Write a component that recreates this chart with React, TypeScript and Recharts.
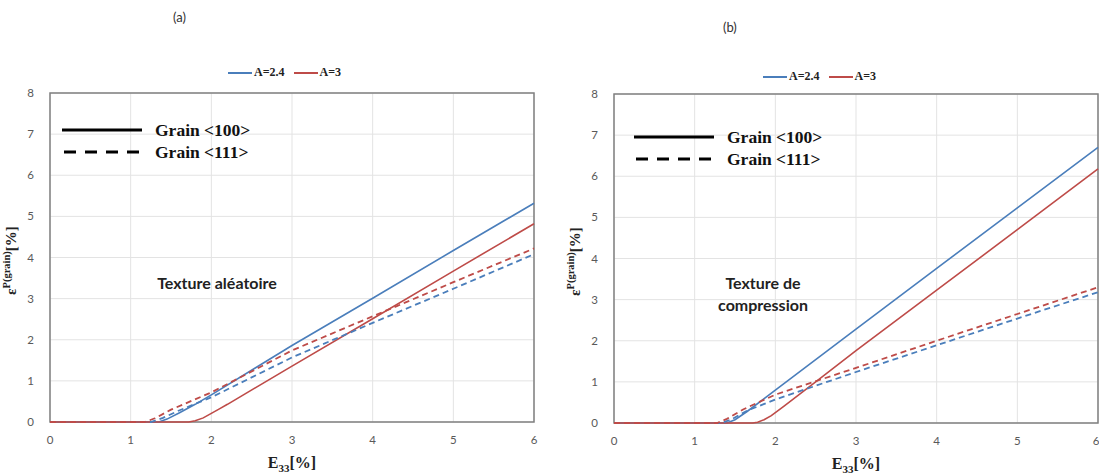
import React from 'react';
import { LineChart, Line, XAxis, YAxis, CartesianGrid, Legend, ReferenceArea } from 'recharts';

type Pt = { x: number; y: number };

// (a) Texture aléatoire
const aBlue100: Pt[] = [
  { x: 0, y: 0 }, { x: 1.35, y: 0 }, { x: 1.45, y: 0.07 }, { x: 1.6, y: 0.22 }, { x: 1.8, y: 0.43 },
  { x: 2, y: 0.66 }, { x: 3, y: 1.86 }, { x: 4, y: 3.01 }, { x: 5, y: 4.17 }, { x: 6, y: 5.32 },
];
const aRed100: Pt[] = [
  { x: 0, y: 0 }, { x: 1.72, y: 0 }, { x: 1.8, y: 0.03 }, { x: 1.9, y: 0.1 }, { x: 2, y: 0.21 },
  { x: 2.1, y: 0.32 }, { x: 2.2, y: 0.43 }, { x: 3, y: 1.36 }, { x: 4, y: 2.51 }, { x: 5, y: 3.67 }, { x: 6, y: 4.82 },
];
const aBlue111: Pt[] = [
  { x: 0, y: 0 }, { x: 1.25, y: 0 }, { x: 1.4, y: 0.1 }, { x: 1.6, y: 0.28 }, { x: 2, y: 0.6 },
  { x: 3, y: 1.57 }, { x: 4, y: 2.41 }, { x: 5, y: 3.24 }, { x: 6, y: 4.08 },
];
const aRed111: Pt[] = [
  { x: 0, y: 0 }, { x: 1.18, y: 0 }, { x: 1.3, y: 0.09 }, { x: 1.5, y: 0.3 }, { x: 2, y: 0.72 },
  { x: 3, y: 1.74 }, { x: 4, y: 2.57 }, { x: 5, y: 3.4 }, { x: 6, y: 4.22 },
];

// (b) Texture de compression
const bBlue100: Pt[] = [
  { x: 0, y: 0 }, { x: 1.4, y: 0 }, { x: 1.5, y: 0.08 }, { x: 1.65, y: 0.28 }, { x: 2, y: 0.8 },
  { x: 3, y: 2.28 }, { x: 4, y: 3.76 }, { x: 5, y: 5.23 }, { x: 6, y: 6.7 },
];
const bRed100: Pt[] = [
  { x: 0, y: 0 }, { x: 1.72, y: 0 }, { x: 1.78, y: 0.02 }, { x: 1.86, y: 0.08 }, { x: 1.95, y: 0.18 },
  { x: 2.1, y: 0.4 }, { x: 2.5, y: 1.0 }, { x: 3, y: 1.76 }, { x: 4, y: 3.23 }, { x: 5, y: 4.7 }, { x: 6, y: 6.18 },
];
const bBlue111: Pt[] = [
  { x: 0, y: 0 }, { x: 1.33, y: 0 }, { x: 1.45, y: 0.08 }, { x: 1.65, y: 0.3 }, { x: 2, y: 0.57 },
  { x: 3, y: 1.24 }, { x: 4, y: 1.89 }, { x: 5, y: 2.54 }, { x: 6, y: 3.18 },
];
const bRed111: Pt[] = [
  { x: 0, y: 0 }, { x: 1.28, y: 0 }, { x: 1.4, y: 0.1 }, { x: 1.6, y: 0.33 }, { x: 2, y: 0.69 },
  { x: 3, y: 1.34 }, { x: 4, y: 2.0 }, { x: 5, y: 2.65 }, { x: 6, y: 3.3 },
];

const xTicks = [0, 1, 2, 3, 4, 5, 6];
const yTicks = [0, 1, 2, 3, 4, 5, 6, 7, 8];

const BLUE = '#4a7ebb';
const RED = '#be4b48';
const tickStyle = { fontSize: 11.5, fill: '#595959', fontFamily: 'Lato, sans-serif' };

const renderLegend = (props: any) => (
  <div style={{ display: 'flex', gap: 9, fontFamily: '"Liberation Serif", serif', fontWeight: 'bold', fontSize: 12, color: '#222' }}>
    {(props.payload || []).filter((p: any) => p.type !== 'none').map((p: any) => (
      <span key={p.value} style={{ display: 'flex', alignItems: 'center' }}>
        <svg width={24} height={4}><line x1={0} y1={2} x2={24} y2={2} stroke={p.color} strokeWidth={2} /></svg>
        <span style={{ marginLeft: 2 }}>{p.value}</span>
      </span>
    ))}
  </div>
);

const YLabel = ({ viewBox }: any) => {
  const cx = viewBox.x - 4;
  const cy = viewBox.y + viewBox.height / 2 + 3;
  return (
    <text transform={`rotate(-90, ${cx}, ${cy})`} x={cx} y={cy} textAnchor="middle"
      fontFamily='"Liberation Serif", serif' fontWeight="bold" fontSize={15} fill="#222">
      ε<tspan dy={-6} fontSize={10.5}>P(grain)</tspan><tspan dy={6}>[%]</tspan>
    </text>
  );
};

const XLabel = ({ viewBox }: any) => (
  <text x={viewBox.x + viewBox.width / 2} y={viewBox.y + 46} textAnchor="middle"
    fontFamily='"Liberation Serif", serif' fontWeight="bold" fontSize={16} fill="#222">
    E<tspan dy={4} fontSize={11}>33</tspan><tspan dy={-4}>[%]</tspan>
  </text>
);

type PanelProps = {
  blue100: Pt[]; red100: Pt[]; blue111: Pt[]; red111: Pt[];
  width: number; margin: any; legendLeft: number; legendTop: number;
};

const Panel = ({ blue100, red100, blue111, red111, width, margin, legendLeft, legendTop }: PanelProps) => (
  <LineChart width={width} height={474} margin={margin}>
    <CartesianGrid stroke="#e3e3e3" />
    <XAxis type="number" dataKey="x" domain={[0, 6]} ticks={xTicks} axisLine={false} tickLine={false}
      tick={tickStyle} tickMargin={8} height={30} allowDuplicatedCategory={false} label={<XLabel />} />
    <YAxis type="number" dataKey="y" domain={[0, 8]} ticks={yTicks} axisLine={false} tickLine={false}
      tick={tickStyle} tickMargin={10} width={30} label={<YLabel />} />
    <ReferenceArea x1={0} x2={6} y1={0} y2={8} fill="none" stroke="#808080" strokeWidth={1.5} />
    <Legend content={renderLegend} wrapperStyle={{ left: legendLeft, top: legendTop, width: 'auto' }} />
    <Line data={blue100} dataKey="y" name="A=2.4" stroke={BLUE} strokeWidth={1.6} dot={false} legendType="plainline" isAnimationActive={false} />
    <Line data={red100} dataKey="y" name="A=3" stroke={RED} strokeWidth={1.6} dot={false} legendType="plainline" isAnimationActive={false} />
    <Line data={blue111} dataKey="y" name="A=2.4 <111>" stroke={BLUE} strokeWidth={1.8} strokeDasharray="6 4" dot={false} legendType="none" isAnimationActive={false} />
    <Line data={red111} dataKey="y" name="A=3 <111>" stroke={RED} strokeWidth={1.8} strokeDasharray="6 4" dot={false} legendType="none" isAnimationActive={false} />
  </LineChart>
);

const GrainKey = ({ left, top }: { left: number; top: number }) => (
  <div style={{ position: 'absolute', left, top, fontFamily: '"Liberation Serif", serif', fontWeight: 'bold', fontSize: 17.5, color: '#111' }}>
    <div style={{ display: 'flex', alignItems: 'center', height: 22 }}>
      <svg width={80} height={4}><line x1={0} y1={2} x2={80} y2={2} stroke="#000" strokeWidth={3} /></svg>
      <span style={{ marginLeft: 13 }}>Grain &lt;100&gt;</span>
    </div>
    <div style={{ display: 'flex', alignItems: 'center', height: 22 }}>
      <svg width={80} height={4}><line x1={2} y1={2} x2={80} y2={2} stroke="#000" strokeWidth={3} strokeDasharray="12 9" /></svg>
      <span style={{ marginLeft: 13 }}>Grain &lt;111&gt;</span>
    </div>
  </div>
);

const note = { position: 'absolute' as const, fontFamily: 'Lato, sans-serif', fontWeight: 'bold' as const, fontSize: 16, color: '#222', textAlign: 'center' as const, lineHeight: '22px' };

export default function App() {
  return (
    <div style={{ position: 'absolute', left: 0, top: 0, width: 1099, height: 474, background: '#fff', overflow: 'hidden' }}>
      <div style={{ position: 'absolute', left: 0, top: 0 }}>
        <Panel blue100={aBlue100} red100={aRed100} blue111={aBlue111} red111={aRed111}
          width={560} margin={{ top: 93, right: 26, bottom: 7, left: 20 }} legendLeft={228} legendTop={65} />
      </div>
      <div style={{ position: 'absolute', left: 560, top: 0 }}>
        <Panel blue100={bBlue100} red100={bRed100} blue111={bBlue111} red111={bRed111}
          width={539} margin={{ top: 94, right: 1, bottom: 6, left: 24 }} legendLeft={203} legendTop={69} />
      </div>
      <div style={{ position: 'absolute', left: 173, top: 9, fontFamily: 'Lato, sans-serif', fontSize: 13, color: '#333' }}>(a)</div>
      <div style={{ position: 'absolute', left: 723, top: 19, fontFamily: 'Lato, sans-serif', fontSize: 13, color: '#333' }}>(b)</div>
      <GrainKey left={62} top={119} />
      <GrainKey left={634} top={126} />
      <div style={{ ...note, left: 137, top: 272, width: 160 }}>Texture aléatoire</div>
      <div style={{ ...note, left: 683, top: 272, width: 160 }}>Texture de<br />compression</div>
    </div>
  );
}
